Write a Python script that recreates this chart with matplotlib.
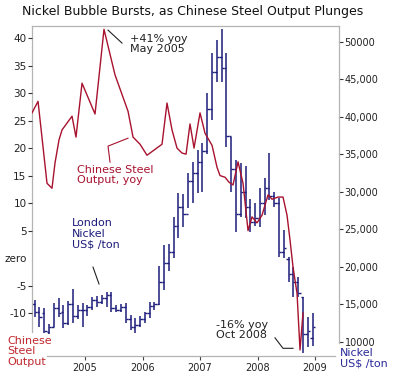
import pandas as pd
import matplotlib
matplotlib.use('Agg')
import matplotlib.pyplot as plt

# monthly nickel price bars, US$ per ton (open, high, low, close)
months = pd.period_range('2004-02', '2008-12', freq='M')
nk_open = [15000, 14000, 13900, 11300, 12000, 14500, 14000, 12500, 15000, 13500, 14200,
           14300, 14700, 15600, 15300, 15800, 16300, 14500, 14300, 14700, 13000, 12000,
           12300, 13000, 13800, 14800, 15000, 18000, 20500, 22000, 25500, 28000, 27000,
           31500, 32500, 34000, 35500, 41000, 46000, 48000, 46500, 37500, 33000, 27000,
           30000, 28000, 26000, 26500, 28500, 30500, 29500, 28500, 22000, 21000, 19000,
           18000, 16000, 11000, 10500]
nk_high = [15600, 14700, 14500, 12400, 15200, 15900, 14900, 15500, 17100, 14900, 15200,
           14900, 16000, 16100, 16300, 16700, 16700, 14900, 15000, 15200, 13600, 13200,
           13400, 14000, 15300, 15300, 20100, 22900, 23000, 26700, 29900, 29700, 32500,
           34000, 35600, 36500, 43200, 48500, 50300, 51700, 48500, 37300, 34300, 33900,
           33500, 29000, 28500, 30500, 31900, 35200, 30000, 29200, 24900, 21300, 20000,
           18700, 16000, 13300, 13900]
nk_low = [13300, 12000, 11200, 11000, 12000, 13300, 11900, 12300, 12500, 13000, 12000,
          13500, 14300, 14700, 15000, 14700, 14000, 14000, 14000, 12500, 11600, 11200,
          12000, 12500, 13200, 14300, 14900, 16900, 19500, 21200, 23900, 25300, 27900,
          28500, 29900, 30000, 35000, 39600, 44700, 44700, 36000, 30000, 24700, 26700,
          26500, 24600, 25500, 25300, 26900, 28900, 28000, 21300, 21200, 18000, 16000,
          16000, 8500, 9300, 9500]
nk_close = [14000, 13300, 11500, 12000, 14500, 13800, 12500, 15000, 13500, 14200, 14300,
            14700, 15600, 15300, 15800, 16300, 14500, 14300, 14700, 13000, 12000, 12300,
            13000, 13800, 14800, 15000, 18000, 20500, 22000, 25500, 28000, 27000, 31500,
            32500, 34000, 35500, 41000, 46000, 48000, 46500, 37500, 33000, 27000, 30000,
            28000, 26000, 26500, 28500, 30500, 29500, 28500, 22000, 22500, 19000, 18000,
            16500, 11000, 11500, 12000]

# chinese steel output, % yoy
steel_t = [2004.078, 2004.183, 2004.339, 2004.426, 2004.478, 2004.548, 2004.600, 2004.774,
           2004.843, 2004.948, 2005.174, 2005.330, 2005.522, 2005.748, 2005.835, 2005.957,
           2006.078, 2006.339, 2006.426, 2006.513, 2006.600, 2006.687, 2006.757, 2006.826,
           2006.896, 2007.000, 2007.087, 2007.209, 2007.296, 2007.348, 2007.435, 2007.504,
           2007.574, 2007.661, 2007.748, 2007.835, 2007.904, 2007.991, 2008.078, 2008.183,
           2008.252, 2008.357, 2008.443, 2008.513, 2008.565, 2008.617, 2008.687, 2008.739,
           2008.791]
steel_yoy = [26.4, 28.5, 13.6, 12.7, 17.3, 21.5, 23.3, 25.8, 22.0, 31.8, 26.2, 41.6, 33.3,
             26.7, 22.0, 20.7, 18.7, 20.7, 28.2, 23.3, 20.0, 19.1, 18.9, 24.4, 20.0, 26.4,
             22.7, 20.5, 16.5, 15.0, 14.7, 13.8, 13.3, 17.5, 13.6, 5.0, 7.5, 6.4, 7.8, 11.5,
             10.7, 11.1, 11.1, 7.8, 3.3, -1.6, -6.4, -16.7, -10.0]

left_ticks = [-10, -5, 0, 5, 10, 15, 20, 25, 30, 35, 40]
left_labels = ['-10', '-5', 'zero', '5', '10', '15', '20', '25', '30', '35', '40']
right_ticks = [10000, 15000, 20000, 25000, 30000, 35000, 40000, 45000, 50000]
right_labels = ['10000', '15,000', '20,000', '25,000', '30,000', '35,000', '40,000',
                '45,000', '50000']
years = [2005, 2006, 2007, 2008, 2009]

red = '#a8122e'
navy = '#1c1c7a'
grey = '#b4b4b4'

fig = plt.figure(figsize=(3.93, 3.78), dpi=100)
ax = fig.add_axes([32/393, 22/378, 307/393, 330/378])
axs = ax.twinx()
ax.yaxis.tick_right()
axs.yaxis.tick_left()

# nickel bars
x = months.year + (months.month - 0.5) / 12
w = 0.5 / 12
ax.vlines(x, nk_low, nk_high, color=navy, lw=1.1)
ax.hlines(nk_open, x - w, x, color=navy, lw=1.0)
ax.hlines(nk_close, x, x + w, color=navy, lw=1.0)

# steel line on top
axs.plot(steel_t, steel_yoy, color=red, lw=1.0)

ax.set_xlim(2004.078, 2009.417)
ax.set_ylim(8130, 52130)
axs.set_ylim(-17.8, 42.2)

for sp in ax.spines.values():
    sp.set_color(grey)
    sp.set_linewidth(0.9)
for sp in axs.spines.values():
    sp.set_visible(False)
# spines stop short where the corner labels sit
ax.spines['left'].set_bounds(11330, 52130)
ax.spines['right'].set_bounds(9870, 52130)
ax.spines['bottom'].set_bounds(2004.339, 2009.348)

ax.set_xticks(years)
ax.set_xticklabels([str(y) for y in years])
ax.set_yticks(right_ticks)
ax.set_yticklabels(right_labels)
axs.set_yticks(left_ticks)
axs.set_yticklabels(left_labels)
ax.tick_params(axis='x', length=3, color='#444', labelsize=7, pad=2, labelcolor='#222')
ax.tick_params(axis='y', length=3, color='#333', labelsize=7, pad=1, labelcolor='#222')
axs.tick_params(axis='y', length=3, color='#333', labelsize=7.5, pad=1, labelcolor='#222')
axs.yaxis.get_major_ticks()[2].tick1line.set_visible(False)

# annotations
axs.text(2005.78, 40.8, '+41% yoy\nMay 2005', fontsize=8, color='#222', va='top',
         linespacing=1.05)
axs.plot([2005.40, 2005.643], [41.45, 39.1], color='#222', lw=0.8)

axs.text(2004.861, 17.0, 'Chinese Steel\nOutput, yoy', fontsize=8, color=red, va='top',
         linespacing=1.05)
axs.plot([2005.435, 2005.40, 2005.748], [17.45, 20.36, 21.8], color=red, lw=0.8)

axs.text(2004.774, 7.2, 'London\nNickel\nUS$ /ton', fontsize=8, color=navy, va='top',
         linespacing=1.05)
axs.plot([2005.139, 2005.243], [-1.64, -4.7], color='#222', lw=0.8)

axs.text(2007.278, -11.2, '-16% yoy\nOct 2008', fontsize=8, color='#222', va='top',
         linespacing=1.05)
axs.plot([2008.304, 2008.443, 2008.617], [-14.5, -16.4, -16.4], color='#222', lw=0.8)

fig.text(7/393, 1 - 336/378, 'Chinese\nSteel\nOutput', fontsize=8, color='#c0282d',
         va='top', linespacing=1.05)
fig.text(340/393, 1 - 348/378, 'Nickel\nUS$ /ton', fontsize=8, color='#2a2a9a',
         va='top', linespacing=1.05)

fig.text(193/393, 1 - 12/378, 'Nickel Bubble Bursts, as Chinese Steel Output Plunges',
         fontsize=9, color='#111', ha='center', va='center')

fig.savefig('out.png', dpi=100, facecolor='white')
